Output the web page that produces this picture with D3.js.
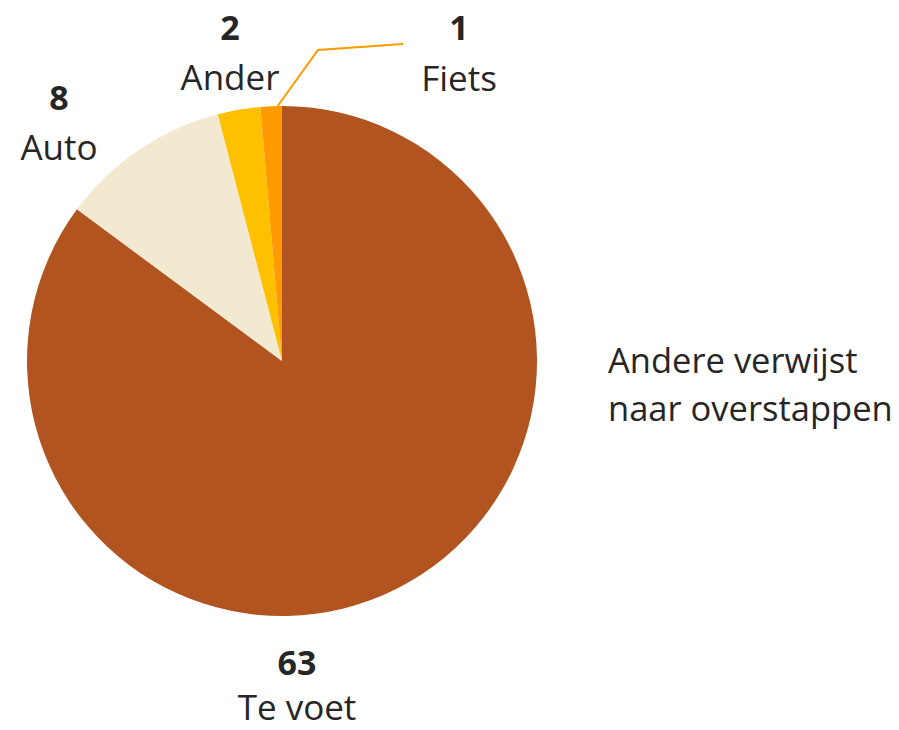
<!DOCTYPE html>
<html>
<head>
<meta charset="utf-8">
<script src="https://cdn.jsdelivr.net/npm/d3@7"></script>
<style>
  body { margin: 0; background: #fff; }
  text { font-family: "Open Sans", sans-serif; fill: #262626; }
</style>
</head>
<body>
<svg width="899" height="730"></svg>
<script>
// data
var categories = ["Te voet", "Auto", "Ander", "Fiets"];
var values = [63, 8, 2, 1];
var colors = ["#B1541F", "#F2E9D0", "#FFC000", "#FF9A00"];
var note = ["Andere verwijst", "naar overstappen"];

var svg = d3.select("svg"),
    cx = 282, cy = 361, radius = 255;

var data = categories.map(function(c, i) { return {name: c, value: values[i], color: colors[i]}; });

var pie = d3.pie().sort(null).value(function(d) { return d.value; });
var arc = d3.arc().innerRadius(0).outerRadius(radius);

var g = svg.append("g").attr("transform", "translate(" + cx + "," + cy + ")");

var arcs = pie(data);

g.selectAll(".slice")
  .data(arcs)
  .enter().append("path")
    .attr("class", "slice")
    .attr("d", arc)
    .attr("fill", function(d) { return d.data.color; });

// label positions relative to the centre (Excel style placement)
var labelPos = {
  "Te voet": [15, 314, 45],
  "Auto":    [-223, -251, 50],
  "Ander":   [-52, -321, 50],
  "Fiets":   [177, -321, 51]
};

var labels = g.selectAll(".label")
  .data(arcs)
  .enter().append("g")
    .attr("class", "label")
    .attr("transform", function(d) { var p = labelPos[d.data.name]; return "translate(" + p[0] + "," + p[1] + ")"; });

labels.append("text")
    .attr("text-anchor", "middle")
    .attr("font-size", 34)
    .attr("font-weight", "bold")
    .text(function(d) { return d.value; });

labels.append("text")
    .attr("text-anchor", "middle")
    .attr("y", function(d) { return labelPos[d.data.name][2]; })
    .attr("font-size", 35)
    .text(function(d) { return d.data.name; });

// leader line for the tiny slice
var fiets = arcs[3];
var a = fiets.startAngle + (fiets.endAngle - fiets.startAngle) * 0.8;
var p0 = [Math.sin(a) * radius, -Math.cos(a) * radius];
g.append("polyline")
    .attr("points", [p0, [36, -311], [121, -317]].map(function(p) { return p.join(","); }).join(" "))
    .attr("fill", "none")
    .attr("stroke", "#FF9A00")
    .attr("stroke-width", 2);

// side note
svg.append("g").selectAll("text")
  .data(note)
  .enter().append("text")
    .attr("x", 608)
    .attr("y", function(d, i) { return 373 + i * 48; })
    .attr("font-size", 34.5)
    .text(function(d) { return d; });
</script>
</body>
</html>
